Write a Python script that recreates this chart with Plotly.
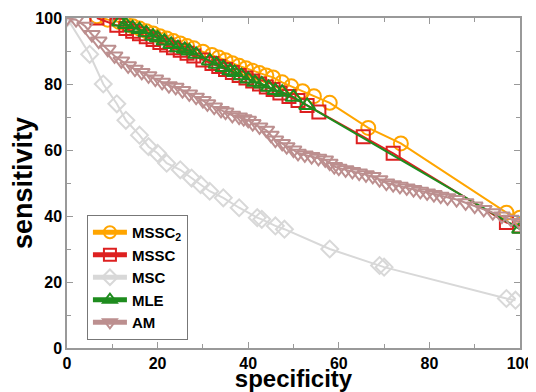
import plotly.graph_objects as go

# MSSC2 (orange circles)
mssc2_x = [6.6, 9, 11.5, 13, 14.5, 16, 17.5, 19, 20.5, 22, 23.5, 25, 26.5, 28, 30, 32, 33.5, 35, 36.5, 38, 39.5, 41, 42.5, 44, 45.5, 47.5, 49.5, 52, 54.5, 58, 66.5, 73.7, 97, 100]
mssc2_y = [100.5, 99.5, 98.8, 98.2, 97.5, 96.8, 96, 95.3, 94.5, 93.8, 93, 92.3, 91.5, 90.8, 89.8, 88.8, 88, 87.2, 86.3, 85.5, 84.8, 84, 83.3, 82.6, 82, 80.5, 79.3, 77.8, 76.3, 74.3, 66.7, 62, 41, 39.5]
# MSSC (red squares)
mssc_x = [6.6, 11, 13, 14.5, 16, 17.5, 19, 20.5, 22, 23.5, 25, 26.5, 28, 30, 32, 33.5, 35, 36.5, 38, 39.5, 41, 42.5, 44, 45.5, 47, 49, 51, 53, 55.6, 65.4, 72, 97, 100]
mssc_y = [100, 97.8, 96.8, 96, 95.2, 94.3, 93.5, 92.6, 91.8, 91, 90.2, 89.3, 88.5, 87.3, 86.2, 85.3, 84.4, 83.5, 82.6, 81.8, 80.9, 80, 79.1, 78.3, 77.3, 76.2, 75, 73.5, 71.5, 64, 59, 38, 37]
# MSC (light gray diamonds)
msc_x = [0, 5, 8, 11, 13, 16, 18, 20, 22, 25, 27.5, 29.5, 31.5, 34.5, 38, 42, 43, 46, 48, 58, 69, 70, 97, 99]
msc_y = [100, 89, 80, 74, 69, 64.5, 61, 59, 56, 54, 51.5, 49.5, 47.5, 45.5, 42.5, 39.5, 39, 37, 36, 30, 25, 24.5, 15, 14.5]
# MLE (green triangles)
mle_x = [11.7, 13, 14.5, 16, 17.5, 19, 20, 21.5, 23, 24.5, 26, 27, 28.5, 31.5, 33, 34.5, 36, 37, 38.5, 40, 41.5, 43, 44.5, 46, 47.5, 50, 53, 100]
mle_y = [98.8, 98, 97, 96.5, 95.5, 94.5, 94, 93, 92, 91, 90.5, 90, 89, 87, 86, 85, 84, 83.5, 82.5, 81.5, 80.5, 80, 79, 78, 77.5, 76, 73.5, 36]
# AM (rosy triangles down)
am_x = [0, 2, 4, 5.5, 7, 9, 10.5, 12, 13.5, 15, 16.5, 18, 19.5, 21, 22.5, 24, 25.5, 27, 28.5, 30, 31, 32.5, 34, 35, 36.5, 38, 39, 40, 41, 42.5, 44, 45, 46, 47.5, 48.5, 50, 51, 52.5, 54, 55.5, 57, 58, 59, 60, 61.5, 63, 64.5, 66, 67.5, 69, 70.5, 72, 73.5, 75, 76.5, 78, 79.5, 81, 82.5, 84, 86, 88, 90, 92, 94, 96, 98, 100]
am_y = [100, 99.5, 97.5, 95, 93, 90.5, 88.5, 87, 85.5, 84.5, 83.5, 82.5, 81.5, 80.5, 79.5, 79, 78, 77, 76, 75, 74, 73, 72, 71.5, 70.5, 70, 69.5, 69, 68, 67, 66, 64.5, 63, 62, 61, 60, 59, 58.5, 58, 57.5, 57, 56, 55, 54.5, 54, 53.5, 53, 52.5, 52, 51, 50, 49.5, 49, 48.5, 48, 47.5, 47, 46.5, 46, 45.5, 45, 44, 43, 42, 41, 40, 39, 38]

x_ticks = [0, 20, 40, 60, 80, 100]
y_ticks = [0, 20, 40, 60, 80, 100]

series = [
    ("MSSC<sub>2</sub>", mssc2_x, mssc2_y, "#FFA500", "circle-open", 14),
    ("MSSC", mssc_x, mssc_y, "#DD2020", "square-open", 13),
    ("MSC", msc_x, msc_y, "#D8D8D8", "diamond-open", 13),
    ("MLE", mle_x, mle_y, "#1E8C1E", "triangle-up-open", 14),
    ("AM", am_x, am_y, "#BC8F8F", "triangle-down-open", 14),
]

fig = go.Figure()
for name, xs, ys, col, sym, sz in series:
    fig.add_trace(go.Scatter(
        x=xs, y=ys, name=name, mode="lines+markers",
        line=dict(color=col, width=2),
        marker=dict(symbol=sym, size=sz, color=col, line=dict(color=col, width=2)),
    ))

font_fam = "Liberation Sans, Arial, sans-serif"
# page body has an 8px margin, so the figure is sized to fill the rest of the window
fig.update_layout(
    width=528, height=384,
    margin=dict(l=59, r=16, t=10, b=44),
    paper_bgcolor="white", plot_bgcolor="white",
    font=dict(family=font_fam, color="black"),
    showlegend=True,
    legend=dict(
        x=0.044, y=0.403, xanchor="left", yanchor="top",
        bgcolor="white", bordercolor="#777", borderwidth=1,
        font=dict(size=15, family=font_fam, weight="bold"),
        itemsizing="constant", tracegroupgap=0, itemwidth=34,
    ),
)
axis_common = dict(
    range=[0, 100], showline=True, linecolor="#999", linewidth=1.5, mirror="ticks",
    ticks="inside", ticklen=6, tickcolor="#999", showgrid=False, zeroline=False,
    automargin=False,
    tickfont=dict(size=16, family=font_fam, weight="bold"),
    minor=dict(ticks="inside", ticklen=4, tickcolor="#999", dtick=10),
)
fig.update_xaxes(**axis_common, tickvals=x_ticks,
                 title=dict(text="specificity", font=dict(size=24, weight="bold"), standoff=7))
fig.update_yaxes(**axis_common, tickvals=y_ticks,
                 title=dict(text="sensitivity", font=dict(size=27, weight="bold"), standoff=8))
fig.write_html("out.html")
